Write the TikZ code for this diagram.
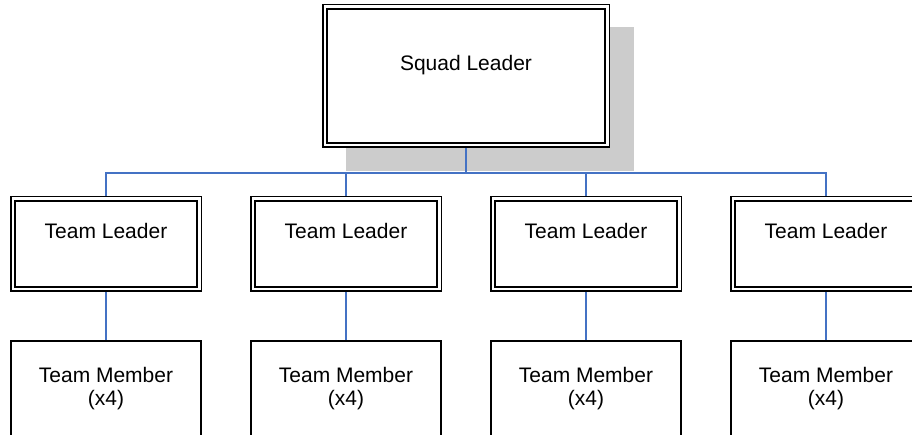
\documentclass[tikz,border=0pt]{standalone}
\usepackage{fontspec}
\setmainfont{Liberation Sans}
\usepackage{xcolor}
\usetikzlibrary{positioning,backgrounds}
\definecolor{orgblue}{HTML}{4472C4}
\definecolor{shadowgray}{HTML}{CCCCCC}

\begin{document}
\begin{tikzpicture}[x=1pt, y=-1pt, font=\fontsize{21}{23}\selectfont]
\tikzstyle{dblock} = [draw, double, double distance=2.8pt, line width=1.5pt, fill=white, inner sep=0pt, outer sep=2.9pt]
\tikzstyle{squadbox} = [dblock, minimum width=282.2pt, minimum height=138.2pt]
\tikzstyle{leader} = [dblock, minimum width=186.2pt, minimum height=90.2pt]
\tikzstyle{member} = [draw, line width=1.6pt, anchor=north, minimum width=190.4pt, minimum height=130pt]
\tikzstyle{txt} = [inner sep=0pt, align=center]
\tikzstyle{link} = [draw=orgblue, line width=1.3pt]

\clip (0,0) rectangle (912,435);

\node[squadbox] (squad) at (466,76) {};
\node[txt, below=51pt of squad.north] (squadtext) {Squad Leader};
\begin{scope}[on background layer]
  \fill[shadowgray] ([shift={(24pt,-23pt)}]squad.south west) rectangle ([shift={(24pt,-23pt)}]squad.north east);
\end{scope}

\coordinate (bus) at (466,173);
\draw[link] (squad) -- (bus);

\foreach \i/\x in {1/106,2/346,3/586,4/826} {
  \node[leader] (tl\i) at (\x,244) {};
  \node[txt, below=27pt of tl\i.north] (tl\i text) {Team Leader};
  \node[member] (tm\i) at (\x,340) {};
  \node[txt, below=27pt of tm\i.north] (tm\i text) {Team Member\\(x4)};
  \draw[link] (bus) -| (tl\i.north);
  \draw[link] (tl\i) -- (tm\i);
}
\end{tikzpicture}
\end{document}
